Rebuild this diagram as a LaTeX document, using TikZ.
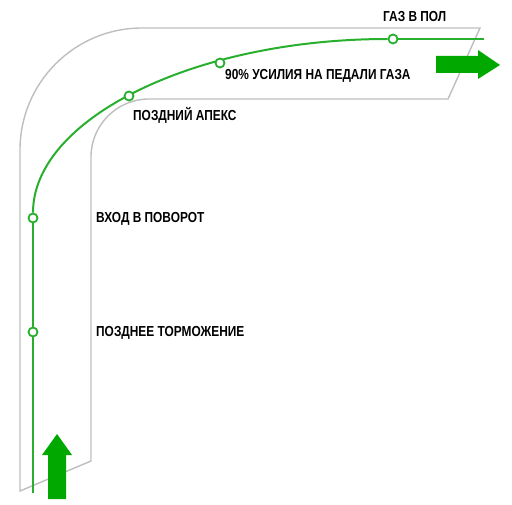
\documentclass[tikz,border=0pt]{standalone}
\usepackage{fontspec}
\setmainfont[FakeStretch=0.82]{Liberation Sans}
\usetikzlibrary{backgrounds}
\usetikzlibrary{shapes,arrows}
\definecolor{lineGreen}{RGB}{40,175,45}
\definecolor{arrowGreen}{RGB}{0,168,0}
\definecolor{edgeGray}{RGB}{190,190,190}
\tikzstyle{edge} = [draw=edgeGray, line width=1.4pt]
\tikzstyle{racing} = [draw=lineGreen, line width=2pt]
\tikzstyle{mark_pt} = [circle, draw=lineGreen, fill=white, line width=1.8pt, inner sep=0pt, minimum size=9pt]
\tikzstyle{lbl} = [anchor=west, inner sep=0pt, font=\fontsize{14.5}{15}\selectfont\bfseries]
\tikzstyle{bigarrow} = [fill=arrowGreen]

\begin{document}
\begin{tikzpicture}[x=1pt, y=-1pt]
		\useasboundingbox (0,0) rectangle (512,505);
		% points on the racing line
		\coordinate (start) at (33,493);
		\node [mark_pt] (brake) at (33,332) {};
		\node [mark_pt] (turnin) at (33,218) {};
		\node [mark_pt] (apex) at (129,96) {};
		\node [mark_pt] (ninety) at (220,63) {};
		\node [mark_pt] (floor) at (393,39) {};
		\coordinate (finish) at (484,39);
		
		\node [lbl] (t_brake) at (96,333) {ПОЗДНЕЕ ТОРМОЖЕНИЕ};
		\node [lbl] (t_turnin) at (96,219) {ВХОД В ПОВОРОТ};
		\node [lbl] (t_apex) at (133,115) {ПОЗДНИЙ АПЕКС};
		\node [lbl] (t_ninety) at (225,76) {90\% УСИЛИЯ НА ПЕДАЛИ ГАЗА};
		\node [lbl] (t_floor) at (383,17) {ГАЗ В ПОЛ};
		
		\begin{pgfonlayer}{background}
		% track outline
		\path [edge] (20,491) -- (20,150) arc [start angle=180, end angle=270, radius=122] -- (480,28) -- (448,99) -- (149,99) arc [start angle=270, end angle=180, radius=58] -- (91,461) -- cycle;
		% racing line
		\path [racing] (start) -- (brake) -- (turnin);
		\path [racing] (turnin) .. controls (33,119) and (194,39) .. (floor);
		\path [racing] (floor) -- (finish);
		\end{pgfonlayer}
		
		% direction arrows
		\path [bigarrow] (48,499) -- (48,455) -- (42,455) -- (57,434) -- (72,455) -- (66,455) -- (66,499) -- cycle;
		\path [bigarrow] (436,56) -- (478,56) -- (478,50) -- (500,65) -- (478,79) -- (478,73) -- (436,73) -- cycle;
		
	\end{tikzpicture}
\end{document}
